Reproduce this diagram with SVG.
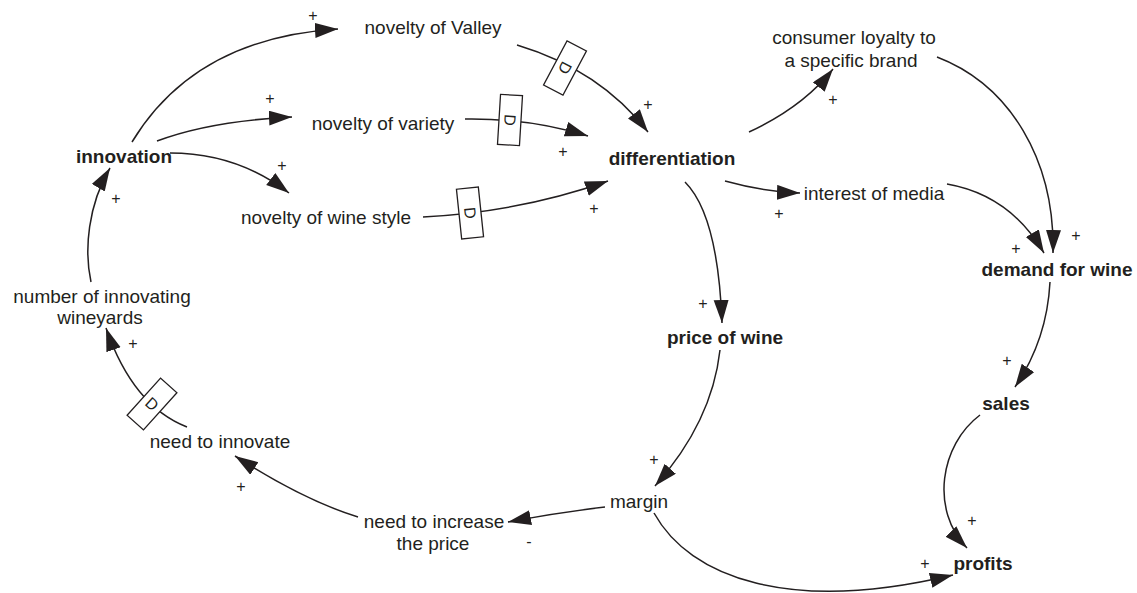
<svg xmlns="http://www.w3.org/2000/svg" width="1137" height="593" viewBox="0 0 1137 593">
<style>
text{font-family:"Liberation Sans",Arial,sans-serif;fill:#231f20}
.n{font-size:19px;text-anchor:middle}
.b{font-size:19px;font-weight:bold;text-anchor:middle}
.s{font-size:16px;text-anchor:middle}
.c{fill:none;stroke:#231f20;stroke-width:1.5;marker-end:url(#ah)}
.d{fill:#fff;stroke:#231f20;stroke-width:1.3}
.dl{font-size:16px;text-anchor:middle;dominant-baseline:central}
</style>
<defs>
<marker id="ah" markerUnits="userSpaceOnUse" markerWidth="26" markerHeight="18" refX="23" refY="7.5" orient="auto">
<path d="M0,0 L23,7.5 L0,15 z" fill="#231f20"/>
</marker>
</defs>
<rect width="1137" height="593" fill="#fff"/>
<g id="connectors">
<path class="c" d="M132,142 Q195,38 338,29"/>
<path class="c" d="M157,141 Q210,121 292,117"/>
<path class="c" d="M170,153 Q237,153 289,193"/>
<path class="c" d="M517,45 Q600,70 648,132"/>
<path class="c" d="M465,119 Q530,118 588,136"/>
<path class="c" d="M423,217 Q520,212 608,181"/>
<path class="c" d="M749,132 Q803,107 833,69"/>
<path class="c" d="M725,181 Q765,192 800,193"/>
<path class="c" d="M937,57 C1010,85 1055,160 1053,253"/>
<path class="c" d="M947,184 Q1010,195 1044,253"/>
<path class="c" d="M1050,282 Q1047,340 1015,387"/>
<path class="c" d="M980,415 C940,445 930,510 967,548"/>
<path class="c" d="M654,513 C690,578 790,614 953,575"/>
<path class="c" d="M685,182 Q718,215 722,323"/>
<path class="c" d="M720,350 Q712,422 655,486"/>
<path class="c" d="M605,507 Q555,513 508,522"/>
<path class="c" d="M358,517 Q303,500 235,456"/>
<path class="c" d="M187,427 Q133,406 106,328"/>
<path class="c" d="M91,282 C84,250 88,205 110,168"/>
<g transform="translate(565,68) rotate(28)"><rect class="d" x="-11" y="-25" width="22" height="50"/><text class="dl" transform="rotate(90)">D</text></g>
<g transform="translate(510,120) rotate(3.5)"><rect class="d" x="-11" y="-25" width="22" height="50"/><text class="dl" transform="rotate(90)">D</text></g>
<g transform="translate(470,213) rotate(-6)"><rect class="d" x="-11" y="-25" width="22" height="50"/><text class="dl" transform="rotate(90)">D</text></g>
<g transform="translate(152,404) rotate(42)"><rect class="d" x="-11" y="-25" width="22" height="50"/><text class="dl">D</text></g>
</g>
<g id="innovation"><text class="b" x="124" y="163">innovation</text></g>
<g id="novelty-valley"><text class="n" x="433" y="34">novelty of Valley</text></g>
<g id="novelty-variety"><text class="n" x="383" y="130">novelty of variety</text></g>
<g id="novelty-wine-style"><text class="n" x="326" y="224">novelty of wine style</text></g>
<g id="differentiation"><text class="b" x="672" y="165">differentiation</text></g>
<g id="consumer-loyalty"><text class="n" x="854" y="44">consumer loyalty to</text><text class="n" x="851" y="67">a specific brand</text></g>
<g id="interest-media"><text class="n" x="874" y="200">interest of media</text></g>
<g id="demand"><text class="b" x="1057" y="276">demand for wine</text></g>
<g id="price"><text class="b" x="725" y="344">price of wine</text></g>
<g id="sales"><text class="b" x="1006" y="410">sales</text></g>
<g id="profits"><text class="b" x="983" y="570">profits</text></g>
<g id="margin"><text class="n" x="639" y="508">margin</text></g>
<g id="need-increase"><text class="n" x="434" y="528">need to increase</text><text class="n" x="433" y="550">the price</text></g>
<g id="need-innovate"><text class="n" x="220" y="448">need to innovate</text></g>
<g id="wineyards"><text class="n" x="102" y="303">number of innovating</text><text class="n" x="100" y="324">wineyards</text></g>
<g id="polarities">
<text class="s" x="313" y="21">+</text>
<text class="s" x="270" y="104">+</text>
<text class="s" x="282" y="171">+</text>
<text class="s" x="116" y="204">+</text>
<text class="s" x="648" y="110">+</text>
<text class="s" x="563" y="157">+</text>
<text class="s" x="594" y="214">+</text>
<text class="s" x="833" y="105">+</text>
<text class="s" x="779" y="219">+</text>
<text class="s" x="1016" y="254">+</text>
<text class="s" x="1076" y="241">+</text>
<text class="s" x="703" y="309">+</text>
<text class="s" x="654" y="465">+</text>
<text class="s" x="529" y="547">-</text>
<text class="s" x="241" y="492">+</text>
<text class="s" x="133" y="349">+</text>
<text class="s" x="1007" y="366">+</text>
<text class="s" x="972" y="526">+</text>
<text class="s" x="925" y="569">+</text>
</g>
</svg>
